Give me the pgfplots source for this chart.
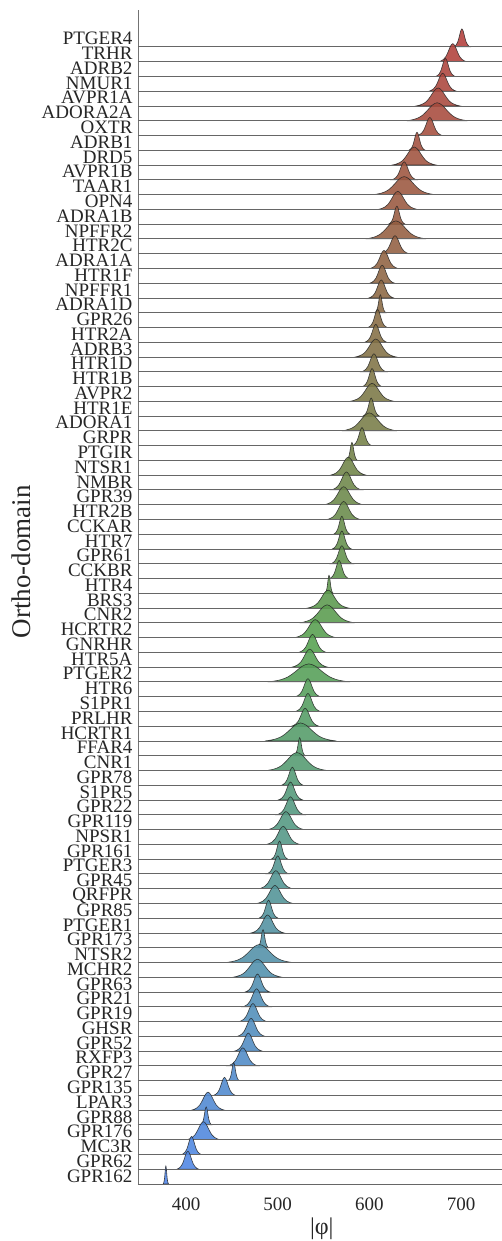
\documentclass[border=0pt]{standalone}
\usepackage{fontspec}
\setmainfont{Liberation Serif}
\usepackage{pgfplots}
\pgfplotsset{compat=1.18}
\usetikzlibrary{calc}
\definecolor{cr}{RGB}{178,62,58}
\definecolor{cg}{RGB}{84,160,78}
\definecolor{cb}{RGB}{78,132,232}
\pgfplotsset{
  ridgefill/.style={draw=black!85, line width=0.6pt, draw opacity=0.85, fill opacity=0.88, smooth, tension=0.55},
  baseline/.style={draw=black!60, line width=0.9pt},
}
\newcommand{\ridge}[3]{%
  \addplot[ridgefill, fill=#1] coordinates {#3} --cycle;
  \addplot[baseline] coordinates {(347.6,#2)(744.7,#2)};
}
\begin{document}
\begin{tikzpicture}
\begin{axis}[
  scale only axis, width=364pt, height=1174pt,
  xmin=347.6, xmax=744.7, ymin=0, ymax=79.5,
  axis lines*=left,
  x axis line style={draw=none},
  y axis line style={draw=black!55, line width=0.8pt},
  major tick length=0pt,
  xtick={400,500,600,700}, xticklabels={400,500,600,700},
  x tick label style={yshift=-10pt},
  y tick label style={xshift=-2pt},
  ytick={0.55,1.55,...,77.55},
  yticklabels={GPR162,GPR62,MC3R,GPR176,GPR88,LPAR3,GPR135,GPR27,RXFP3,GPR52,GHSR,GPR19,GPR21,GPR63,MCHR2,NTSR2,GPR173,PTGER1,GPR85,QRFPR,GPR45,PTGER3,GPR161,NPSR1,GPR119,GPR22,S1PR5,GPR78,CNR1,FFAR4,HCRTR1,PRLHR,S1PR1,HTR6,PTGER2,HTR5A,GNRHR,HCRTR2,CNR2,BRS3,HTR4,CCKBR,GPR61,HTR7,CCKAR,HTR2B,GPR39,NMBR,NTSR1,PTGIR,GRPR,ADORA1,HTR1E,AVPR2,HTR1B,HTR1D,ADRB3,HTR2A,GPR26,ADRA1D,NPFFR1,HTR1F,ADRA1A,HTR2C,NPFFR2,ADRA1B,OPN4,TAAR1,AVPR1B,DRD5,ADRB1,OXTR,ADORA2A,AVPR1A,NMUR1,ADRB2,TRHR,PTGER4},
  tick label style={font=\fontsize{19}{19}\selectfont, text=black!85},
  clip=false,
  ylabel={Ortho-domain},
  ylabel style={font=\fontsize{27}{27}\selectfont, text=black!85, at={(axis description cs:0,0.53)}, anchor=center, yshift=117pt},
  xlabel={|φ|},
  xlabel style={font=\fontsize{24}{24}\selectfont, text=black!85, at={(axis description cs:0.505,0)}, anchor=center, yshift=-45pt},
]
\ridge{cg!0!cr}{77}{(692,77)(693.5,77.06)(695,77.16)(696.5,77.35)(698,77.68)(699.5,78.05)(701,78.22)(702.5,78.05)(704,77.68)(705.5,77.35)(707,77.16)(708.5,77.06)(710,77)}
\ridge{cg!2!cr}{76}{(676,76)(678.5,76.06)(681,76.16)(683.5,76.35)(686,76.68)(688.5,77.05)(691,77.22)(693.5,77.05)(696,76.68)(698.5,76.35)(701,76.16)(703.5,76.06)(706,76)}
\ridge{cg!5!cr}{75}{(672.5,75)(674.25,75.06)(676,75.16)(677.75,75.35)(679.5,75.68)(681.25,76.05)(683,76.22)(684.75,76.05)(686.5,75.68)(688.25,75.35)(690,75.16)(691.75,75.06)(693.5,75)}
\ridge{cg!7!cr}{74}{(665,74)(667.5,74.06)(670,74.16)(672.5,74.35)(675,74.68)(677.5,75.05)(680,75.22)(682.5,75.05)(685,74.68)(687.5,74.35)(690,74.16)(692.5,74.06)(695,74)}
\ridge{cg!10!cr}{73}{(651,73)(655,73.06)(659,73.16)(663,73.35)(667,73.68)(671,74.05)(675,74.22)(679,74.05)(683,73.68)(687,73.35)(691,73.16)(695,73.06)(699,73)}
\ridge{cg!12!cr}{72}{(641,72)(646.5,72.06)(652,72.16)(657.5,72.35)(663,72.68)(668.5,73.05)(674,73.22)(679.5,73.05)(685,72.68)(690.5,72.35)(696,72.16)(701.5,72.06)(707,72)}
\ridge{cg!15!cr}{71}{(652.5,71)(654.75,71.06)(657,71.16)(659.25,71.35)(661.5,71.68)(663.75,72.05)(666,72.22)(668.25,72.05)(670.5,71.68)(672.75,71.35)(675,71.16)(677.25,71.06)(679.5,71)}
\ridge{cg!17!cr}{70}{(643,70)(644.5,70.06)(646,70.16)(647.5,70.35)(649,70.68)(650.5,71.05)(652,71.22)(653.5,71.05)(655,70.68)(656.5,70.35)(658,70.16)(659.5,70.06)(661,70)}
\ridge{cg!20!cr}{69}{(625,69)(629,69.06)(633,69.16)(637,69.35)(641,69.68)(645,70.05)(649,70.22)(653,70.05)(657,69.68)(661,69.35)(665,69.16)(669,69.06)(673,69)}
\ridge{cg!22!cr}{68}{(624.5,68)(626.75,68.06)(629,68.16)(631.25,68.35)(633.5,68.68)(635.75,69.05)(638,69.22)(640.25,69.05)(642.5,68.68)(644.75,68.35)(647,68.16)(649.25,68.06)(651.5,68)}
\ridge{cg!24!cr}{67}{(605,67)(610.5,67.06)(616,67.16)(621.5,67.35)(627,67.68)(632.5,68.05)(638,68.22)(643.5,68.05)(649,67.68)(654.5,67.35)(660,67.16)(665.5,67.06)(671,67)}
\ridge{cg!27!cr}{66}{(610,66)(613.5,66.06)(617,66.16)(620.5,66.35)(624,66.68)(627.5,67.05)(631,67.22)(634.5,67.05)(638,66.68)(641.5,66.35)(645,66.16)(648.5,66.06)(652,66)}
\ridge{cg!29!cr}{65}{(621,65)(622.5,65.06)(624,65.16)(625.5,65.35)(627,65.68)(628.5,66.05)(630,66.22)(631.5,66.05)(633,65.68)(634.5,65.35)(636,65.16)(637.5,65.06)(639,65)}
\ridge{cg!32!cr}{64}{(596,64)(601.5,64.06)(607,64.16)(612.5,64.35)(618,64.68)(623.5,65.05)(629,65.22)(634.5,65.05)(640,64.68)(645.5,64.35)(651,64.16)(656.5,64.06)(662,64)}
\ridge{cg!34!cr}{63}{(613,63)(615.5,63.06)(618,63.16)(620.5,63.35)(623,63.68)(625.5,64.05)(628,64.22)(630.5,64.05)(633,63.68)(635.5,63.35)(638,63.16)(640.5,63.06)(643,63)}
\ridge{cg!37!cr}{62}{(601,62)(603.5,62.06)(606,62.16)(608.5,62.35)(611,62.68)(613.5,63.05)(616,63.22)(618.5,63.05)(621,62.68)(623.5,62.35)(626,62.16)(628.5,62.06)(631,62)}
\ridge{cg!39!cr}{61}{(600.5,61)(602.75,61.06)(605,61.16)(607.25,61.35)(609.5,61.68)(611.75,62.05)(614,62.22)(616.25,62.05)(618.5,61.68)(620.75,61.35)(623,61.16)(625.25,61.06)(627.5,61)}
\ridge{cg!41!cr}{60}{(599.5,60)(601.75,60.06)(604,60.16)(606.25,60.35)(608.5,60.68)(610.75,61.05)(613,61.22)(615.25,61.05)(617.5,60.68)(619.75,60.35)(622,60.16)(624.25,60.06)(626.5,60)}
\ridge{cg!44!cr}{59}{(606,59)(607,59.06)(608,59.16)(609,59.35)(610,59.68)(611,60.05)(612,60.22)(613,60.05)(614,59.68)(615,59.35)(616,59.16)(617,59.06)(618,59)}
\ridge{cg!46!cr}{58}{(598.5,58)(600.25,58.06)(602,58.16)(603.75,58.35)(605.5,58.68)(607.25,59.05)(609,59.22)(610.75,59.05)(612.5,58.68)(614.25,58.35)(616,58.16)(617.75,58.06)(619.5,58)}
\ridge{cg!49!cr}{57}{(595,57)(597,57.06)(599,57.16)(601,57.35)(603,57.68)(605,58.05)(607,58.22)(609,58.05)(611,57.68)(613,57.35)(615,57.16)(617,57.06)(619,57)}
\ridge{cg!51!cr}{56}{(584.5,56)(588.25,56.06)(592,56.16)(595.75,56.35)(599.5,56.68)(603.25,57.05)(607,57.22)(610.75,57.05)(614.5,56.68)(618.25,56.35)(622,56.16)(625.75,56.06)(629.5,56)}
\ridge{cg!54!cr}{55}{(591.5,55)(593.75,55.06)(596,55.16)(598.25,55.35)(600.5,55.68)(602.75,56.05)(605,56.22)(607.25,56.05)(609.5,55.68)(611.75,55.35)(614,55.16)(616.25,55.06)(618.5,55)}
\ridge{cg!56!cr}{54}{(592.5,54)(594.25,54.06)(596,54.16)(597.75,54.35)(599.5,54.68)(601.25,55.05)(603,55.22)(604.75,55.05)(606.5,54.68)(608.25,54.35)(610,54.16)(611.75,54.06)(613.5,54)}
\ridge{cg!59!cr}{53}{(579,53)(583,53.06)(587,53.16)(591,53.35)(595,53.68)(599,54.05)(603,54.22)(607,54.05)(611,53.68)(615,53.35)(619,53.16)(623,53.06)(627,53)}
\ridge{cg!61!cr}{52}{(593,52)(594.5,52.06)(596,52.16)(597.5,52.35)(599,52.68)(600.5,53.05)(602,53.22)(603.5,53.05)(605,52.68)(606.5,52.35)(608,52.16)(609.5,52.06)(611,52)}
\ridge{cg!63!cr}{51}{(570,51)(575,51.06)(580,51.16)(585,51.35)(590,51.68)(595,52.05)(600,52.22)(605,52.05)(610,51.68)(615,51.35)(620,51.16)(625,51.06)(630,51)}
\ridge{cg!66!cr}{50}{(581.5,50)(583.25,50.06)(585,50.16)(586.75,50.35)(588.5,50.68)(590.25,51.05)(592,51.22)(593.75,51.05)(595.5,50.68)(597.25,50.35)(599,50.16)(600.75,50.06)(602.5,50)}
\ridge{cg!68!cr}{49}{(575,49)(576,49.06)(577,49.16)(578,49.35)(579,49.68)(580,50.05)(581,50.22)(582,50.05)(583,49.68)(584,49.35)(585,49.16)(586,49.06)(587,49)}
\ridge{cg!71!cr}{48}{(557.5,48)(560.75,48.06)(564,48.16)(567.25,48.35)(570.5,48.68)(573.75,49.05)(577,49.22)(580.25,49.05)(583.5,48.68)(586.75,48.35)(590,48.16)(593.25,48.06)(596.5,48)}
\ridge{cg!73!cr}{47}{(558.5,47)(561.25,47.06)(564,47.16)(566.75,47.35)(569.5,47.68)(572.25,48.05)(575,48.22)(577.75,48.05)(580.5,47.68)(583.25,47.35)(586,47.16)(588.75,47.06)(591.5,47)}
\ridge{cg!76!cr}{46}{(551,46)(554.5,46.06)(558,46.16)(561.5,46.35)(565,46.68)(568.5,47.05)(572,47.22)(575.5,47.05)(579,46.68)(582.5,46.35)(586,46.16)(589.5,46.06)(593,46)}
\ridge{cg!78!cr}{45}{(554,45)(557,45.06)(560,45.16)(563,45.35)(566,45.68)(569,46.05)(572,46.22)(575,46.05)(578,45.68)(581,45.35)(584,45.16)(587,45.06)(590,45)}
\ridge{cg!80!cr}{44}{(561,44)(562.5,44.06)(564,44.16)(565.5,44.35)(567,44.68)(568.5,45.05)(570,45.22)(571.5,45.05)(573,44.68)(574.5,44.35)(576,44.16)(577.5,44.06)(579,44)}
\ridge{cg!83!cr}{43}{(559.5,43)(561.25,43.06)(563,43.16)(564.75,43.35)(566.5,43.68)(568.25,44.05)(570,44.22)(571.75,44.05)(573.5,43.68)(575.25,43.35)(577,43.16)(578.75,43.06)(580.5,43)}
\ridge{cg!85!cr}{42}{(558,42)(560,42.06)(562,42.16)(564,42.35)(566,42.68)(568,43.05)(570,43.22)(572,43.05)(574,42.68)(576,42.35)(578,42.16)(580,42.06)(582,42)}
\ridge{cg!88!cr}{41}{(556.5,41)(558.25,41.06)(560,41.16)(561.75,41.35)(563.5,41.68)(565.25,42.05)(567,42.22)(568.75,42.05)(570.5,41.68)(572.25,41.35)(574,41.16)(575.75,41.06)(577.5,41)}
\ridge{cg!90!cr}{40}{(551.5,40)(552.25,40.06)(553,40.16)(553.75,40.35)(554.5,40.68)(555.25,41.05)(556,41.22)(556.75,41.05)(557.5,40.68)(558.25,40.35)(559,40.16)(559.75,40.06)(560.5,40)}
\ridge{cg!93!cr}{39}{(532.5,39)(536.25,39.06)(540,39.16)(543.75,39.35)(547.5,39.68)(551.25,40.05)(555,40.22)(558.75,40.05)(562.5,39.68)(566.25,39.35)(570,39.16)(573.75,39.06)(577.5,39)}
\ridge{cg!95!cr}{38}{(524,38)(529,38.06)(534,38.16)(539,38.35)(544,38.68)(549,39.05)(554,39.22)(559,39.05)(564,38.68)(569,38.35)(574,38.16)(579,38.06)(584,38)}
\ridge{cg!98!cr}{37}{(518.5,37)(522.25,37.06)(526,37.16)(529.75,37.35)(533.5,37.68)(537.25,38.05)(541,38.22)(544.75,38.05)(548.5,37.68)(552.25,37.35)(556,37.16)(559.75,37.06)(563.5,37)}
\ridge{cg}{36}{(523,36)(525.5,36.06)(528,36.16)(530.5,36.35)(533,36.68)(535.5,37.05)(538,37.22)(540.5,37.05)(543,36.68)(545.5,36.35)(548,36.16)(550.5,36.06)(553,36)}
\ridge{cb!3!cg}{35}{(515.5,35)(518.75,35.06)(522,35.16)(525.25,35.35)(528.5,35.68)(531.75,36.05)(535,36.22)(538.25,36.05)(541.5,35.68)(544.75,35.35)(548,35.16)(551.25,35.06)(554.5,35)}
\ridge{cb!6!cg}{34}{(489,34)(496.5,34.06)(504,34.16)(511.5,34.35)(519,34.68)(526.5,35.05)(534,35.22)(541.5,35.05)(549,34.68)(556.5,34.35)(564,34.16)(571.5,34.06)(579,34)}
\ridge{cb!8!cg}{33}{(519.5,33)(521.75,33.06)(524,33.16)(526.25,33.35)(528.5,33.68)(530.75,34.05)(533,34.22)(535.25,34.05)(537.5,33.68)(539.75,33.35)(542,33.16)(544.25,33.06)(546.5,33)}
\ridge{cb!11!cg}{32}{(519.5,32)(521.75,32.06)(524,32.16)(526.25,32.35)(528.5,32.68)(530.75,33.05)(533,33.22)(535.25,33.05)(537.5,32.68)(539.75,32.35)(542,32.16)(544.25,32.06)(546.5,32)}
\ridge{cb!14!cg}{31}{(515,31)(517.5,31.06)(520,31.16)(522.5,31.35)(525,31.68)(527.5,32.05)(530,32.22)(532.5,32.05)(535,31.68)(537.5,31.35)(540,31.16)(542.5,31.06)(545,31)}
\ridge{cb!17!cg}{30}{(486,30)(492.5,30.06)(499,30.16)(505.5,30.35)(512,30.68)(518.5,31.05)(525,31.22)(531.5,31.05)(538,30.68)(544.5,30.35)(551,30.16)(557.5,30.06)(564,30)}
\ridge{cb!19!cg}{29}{(518,29)(519,29.06)(520,29.16)(521,29.35)(522,29.68)(523,30.05)(524,30.22)(525,30.05)(526,29.68)(527,29.35)(528,29.16)(529,29.06)(530,29)}
\ridge{cb!22!cg}{28}{(488,28)(493.5,28.06)(499,28.16)(504.5,28.35)(510,28.68)(515.5,29.05)(521,29.22)(526.5,29.05)(532,28.68)(537.5,28.35)(543,28.16)(548.5,28.06)(554,28)}
\ridge{cb!25!cg}{27}{(504,27)(506,27.06)(508,27.16)(510,27.35)(512,27.68)(514,28.05)(516,28.22)(518,28.05)(520,27.68)(522,27.35)(524,27.16)(526,27.06)(528,27)}
\ridge{cb!28!cg}{26}{(500.5,26)(502.75,26.06)(505,26.16)(507.25,26.35)(509.5,26.68)(511.75,27.05)(514,27.22)(516.25,27.05)(518.5,26.68)(520.75,26.35)(523,26.16)(525.25,26.06)(527.5,26)}
\ridge{cb!31!cg}{25}{(499,25)(501.5,25.06)(504,25.16)(506.5,25.35)(509,25.68)(511.5,26.05)(514,26.22)(516.5,26.05)(519,25.68)(521.5,25.35)(524,25.16)(526.5,25.06)(529,25)}
\ridge{cb!33!cg}{24}{(489.5,24)(492.75,24.06)(496,24.16)(499.25,24.35)(502.5,24.68)(505.75,25.05)(509,25.22)(512.25,25.05)(515.5,24.68)(518.75,24.35)(522,24.16)(525.25,24.06)(528.5,24)}
\ridge{cb!36!cg}{23}{(488,23)(491,23.06)(494,23.16)(497,23.35)(500,23.68)(503,24.05)(506,24.22)(509,24.05)(512,23.68)(515,23.35)(518,23.16)(521,23.06)(524,23)}
\ridge{cb!39!cg}{22}{(493,22)(494.5,22.06)(496,22.16)(497.5,22.35)(499,22.68)(500.5,23.05)(502,23.22)(503.5,23.05)(505,22.68)(506.5,22.35)(508,22.16)(509.5,22.06)(511,22)}
\ridge{cb!42!cg}{21}{(488,21)(490,21.06)(492,21.16)(494,21.35)(496,21.68)(498,22.05)(500,22.22)(502,22.05)(504,21.68)(506,21.35)(508,21.16)(510,21.06)(512,21)}
\ridge{cb!44!cg}{20}{(480,20)(483,20.06)(486,20.16)(489,20.35)(492,20.68)(495,21.05)(498,21.22)(501,21.05)(504,20.68)(507,20.35)(510,20.16)(513,20.06)(516,20)}
\ridge{cb!47!cg}{19}{(477.5,19)(480.75,19.06)(484,19.16)(487.25,19.35)(490.5,19.68)(493.75,20.05)(497,20.22)(500.25,20.05)(503.5,19.68)(506.75,19.35)(510,19.16)(513.25,19.06)(516.5,19)}
\ridge{cb!50!cg}{18}{(479.5,18)(481.25,18.06)(483,18.16)(484.75,18.35)(486.5,18.68)(488.25,19.05)(490,19.22)(491.75,19.05)(493.5,18.68)(495.25,18.35)(497,18.16)(498.75,18.06)(500.5,18)}
\ridge{cb!53!cg}{17}{(471,17)(474,17.06)(477,17.16)(480,17.35)(483,17.68)(486,18.05)(489,18.22)(492,18.05)(495,17.68)(498,17.35)(501,17.16)(504,17.06)(507,17)}
\ridge{cb!56!cg}{16}{(478,16)(479,16.06)(480,16.16)(481,16.35)(482,16.68)(483,17.05)(484,17.22)(485,17.05)(486,16.68)(487,16.35)(488,16.16)(489,16.06)(490,16)}
\ridge{cb!58!cg}{15}{(444,15)(450,15.06)(456,15.16)(462,15.35)(468,15.68)(474,16.05)(480,16.22)(486,16.05)(492,15.68)(498,15.35)(504,15.16)(510,15.06)(516,15)}
\ridge{cb!61!cg}{14}{(451,14)(455.5,14.06)(460,14.16)(464.5,14.35)(469,14.68)(473.5,15.05)(478,15.22)(482.5,15.05)(487,14.68)(491.5,14.35)(496,14.16)(500.5,14.06)(505,14)}
\ridge{cb!64!cg}{13}{(464.5,13)(466.75,13.06)(469,13.16)(471.25,13.35)(473.5,13.68)(475.75,14.05)(478,14.22)(480.25,14.05)(482.5,13.68)(484.75,13.35)(487,13.16)(489.25,13.06)(491.5,13)}
\ridge{cb!67!cg}{12}{(462,12)(464.5,12.06)(467,12.16)(469.5,12.35)(472,12.68)(474.5,13.05)(477,13.22)(479.5,13.05)(482,12.68)(484.5,12.35)(487,12.16)(489.5,12.06)(492,12)}
\ridge{cb!69!cg}{11}{(458,11)(460.5,11.06)(463,11.16)(465.5,11.35)(468,11.68)(470.5,12.05)(473,12.22)(475.5,12.05)(478,11.68)(480.5,11.35)(483,11.16)(485.5,11.06)(488,11)}
\ridge{cb!72!cg}{10}{(456,10)(458.5,10.06)(461,10.16)(463.5,10.35)(466,10.68)(468.5,11.05)(471,11.22)(473.5,11.05)(476,10.68)(478.5,10.35)(481,10.16)(483.5,10.06)(486,10)}
\ridge{cb!75!cg}{9}{(453,9)(455.5,9.06)(458,9.16)(460.5,9.35)(463,9.68)(465.5,10.05)(468,10.22)(470.5,10.05)(473,9.68)(475.5,9.35)(478,9.16)(480.5,9.06)(483,9)}
\ridge{cb!78!cg}{8}{(445.5,8)(448.25,8.06)(451,8.16)(453.75,8.35)(456.5,8.68)(459.25,9.05)(462,9.22)(464.75,9.05)(467.5,8.68)(470.25,8.35)(473,8.16)(475.75,8.06)(478.5,8)}
\ridge{cb!81!cg}{7}{(446,7)(447,7.06)(448,7.16)(449,7.35)(450,7.68)(451,8.05)(452,8.22)(453,8.05)(454,7.68)(455,7.35)(456,7.16)(457,7.06)(458,7)}
\ridge{cb!83!cg}{6}{(430,6)(432,6.06)(434,6.16)(436,6.35)(438,6.68)(440,7.05)(442,7.22)(444,7.05)(446,6.68)(448,6.35)(450,6.16)(452,6.06)(454,6)}
\ridge{cb!86!cg}{5}{(406,5)(409,5.06)(412,5.16)(415,5.35)(418,5.68)(421,6.05)(424,6.22)(427,6.05)(430,5.68)(433,5.35)(436,5.16)(439,5.06)(442,5)}
\ridge{cb!89!cg}{4}{(416,4)(417,4.06)(418,4.16)(419,4.35)(420,4.68)(421,5.05)(422,5.22)(423,5.05)(424,4.68)(425,4.35)(426,4.16)(427,4.06)(428,4)}
\ridge{cb!92!cg}{3}{(401,3)(404,3.06)(407,3.16)(410,3.35)(413,3.68)(416,4.05)(419,4.22)(422,4.05)(425,3.68)(428,3.35)(431,3.16)(434,3.06)(437,3)}
\ridge{cb!94!cg}{2}{(395.5,2)(397.25,2.06)(399,2.16)(400.75,2.35)(402.5,2.68)(404.25,3.05)(406,3.22)(407.75,3.05)(409.5,2.68)(411.25,2.35)(413,2.16)(414.75,2.06)(416.5,2)}
\ridge{cb!97!cg}{1}{(390,1)(392,1.06)(394,1.16)(396,1.35)(398,1.68)(400,2.05)(402,2.22)(404,2.05)(406,1.68)(408,1.35)(410,1.16)(412,1.06)(414,1)}
\ridge{cb}{0}{(375,0)(375.5,0.06)(376,0.16)(376.5,0.35)(377,0.68)(377.5,1.05)(378,1.22)(378.5,1.05)(379,0.68)(379.5,0.35)(380,0.16)(380.5,0.06)(381,0)}
\coordinate (BL) at (rel axis cs:0,0);
\coordinate (TR) at (rel axis cs:1,1);
\end{axis}
\pgfresetboundingbox
\path[use as bounding box] ($(BL)+(-138pt,-57pt)$) rectangle ($(TR)+(0pt,10pt)$);
\end{tikzpicture}
\end{document}
